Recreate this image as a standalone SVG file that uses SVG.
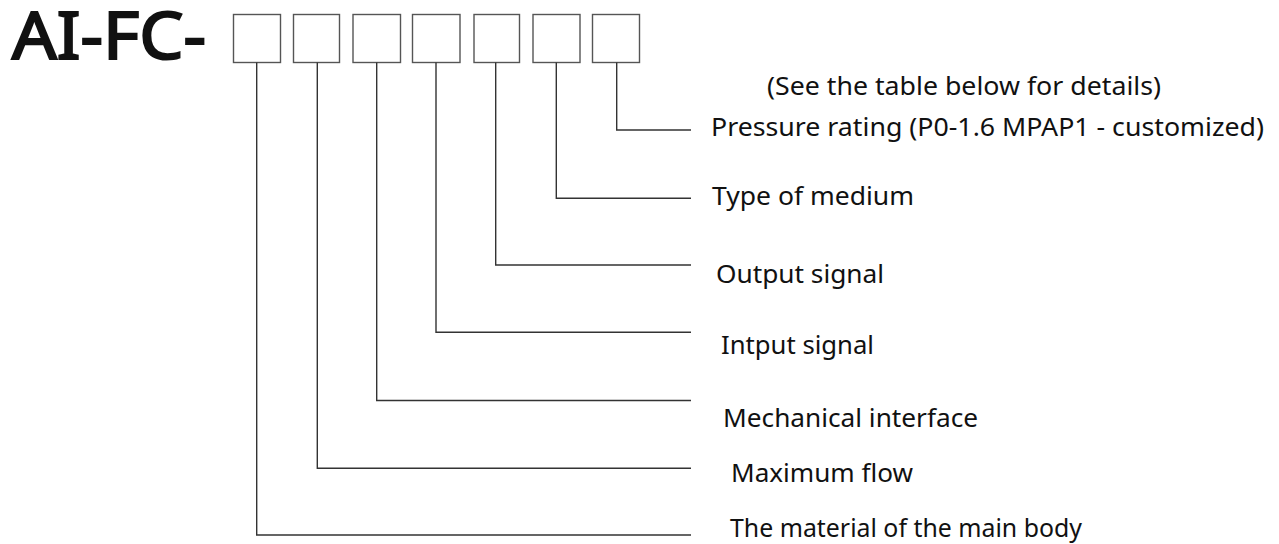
<svg xmlns="http://www.w3.org/2000/svg" width="1279" height="544" viewBox="0 0 1279 544">
<style>
.box{fill:#fff;stroke:#555;stroke-width:1.4}
.ln{fill:none;stroke:#333;stroke-width:1.4}
.lbl{font-family:"Noto Sans","Open Sans","DejaVu Sans",sans-serif;font-size:25px;fill:#111}
.title{font-family:"Noto Sans","Open Sans","DejaVu Sans",sans-serif;font-size:66px;fill:#111;stroke:#111;stroke-width:2.2}
</style>
<rect width="1279" height="544" fill="#fff"/>
<g id="title"><text class="title" x="12" y="59" textLength="194" lengthAdjust="spacingAndGlyphs">AI-FC-</text></g>
<g id="boxes">
<rect id="box1" class="box" x="233.5" y="14.5" width="47" height="48"/>
<rect id="box2" class="box" x="293.5" y="14.5" width="46" height="48"/>
<rect id="box3" class="box" x="353" y="14.5" width="47.5" height="48"/>
<rect id="box4" class="box" x="412.5" y="14.5" width="47.5" height="48"/>
<rect id="box5" class="box" x="474" y="14.5" width="45.5" height="48"/>
<rect id="box6" class="box" x="533" y="14.5" width="47" height="48"/>
<rect id="box7" class="box" x="592.5" y="14.5" width="47" height="48"/>
</g>
<g id="connectors">
<polyline class="ln" points="616.7,62.5 616.7,130 691,130"/>
<polyline class="ln" points="556.3,62.5 556.3,198.3 691,198.3"/>
<polyline class="ln" points="495.7,62.5 495.7,265 691,265"/>
<polyline class="ln" points="436,62.5 436,332.3 691,332.3"/>
<polyline class="ln" points="376.7,62.5 376.7,400.5 691,400.5"/>
<polyline class="ln" points="317.3,62.5 317.3,468.3 691,468.3"/>
<polyline class="ln" points="256.7,62.5 256.7,535 691,535"/>
</g>
<g id="note"><text class="lbl" x="767" y="95" font-size="23" textLength="394" lengthAdjust="spacingAndGlyphs">(See the table below for details)</text></g>
<g id="label7"><text class="lbl" x="711" y="136" textLength="553" lengthAdjust="spacingAndGlyphs">Pressure rating (P0-1.6 MPAP1 - customized)</text></g>
<g id="label6"><text class="lbl" x="712" y="205" textLength="202" lengthAdjust="spacingAndGlyphs">Type of medium</text></g>
<g id="label5"><text class="lbl" x="716" y="283" textLength="168" lengthAdjust="spacingAndGlyphs">Output signal</text></g>
<g id="label4"><text class="lbl" x="721" y="354" textLength="153" lengthAdjust="spacingAndGlyphs">Intput signal</text></g>
<g id="label3"><text class="lbl" x="723" y="427" textLength="255" lengthAdjust="spacingAndGlyphs">Mechanical interface</text></g>
<g id="label2"><text class="lbl" x="731" y="482" textLength="182" lengthAdjust="spacingAndGlyphs">Maximum flow</text></g>
<g id="label1"><text class="lbl" x="730" y="537" textLength="352" lengthAdjust="spacingAndGlyphs">The material of the main body</text></g>
</svg>
